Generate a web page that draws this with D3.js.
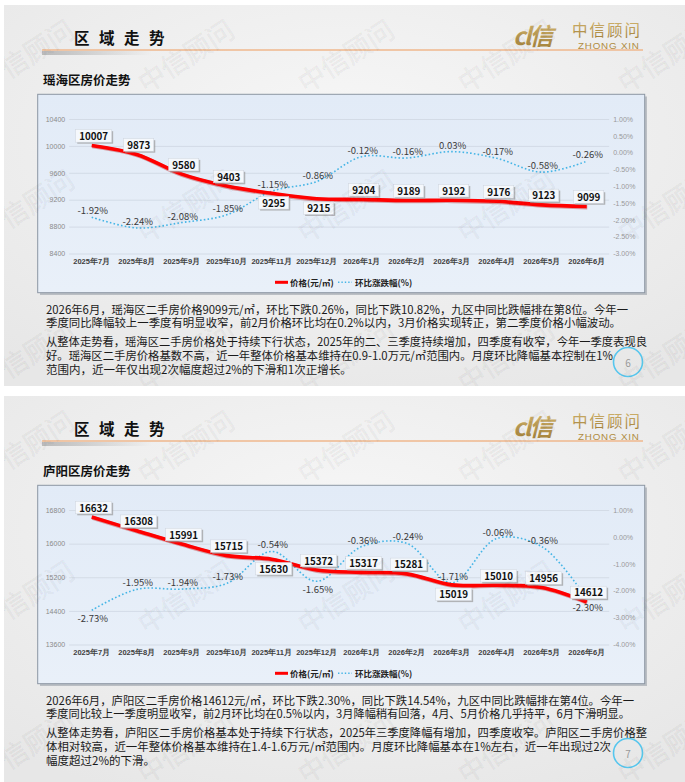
<!DOCTYPE html>
<html>
<head>
<meta charset="utf-8">
<script src="https://cdn.jsdelivr.net/npm/d3@7"></script>
<style>
  body { margin: 0; background: #fff; }
  svg { display: block; font-family: "Noto Sans CJK SC", "Noto Sans", sans-serif; }
</style>
</head>
<body>
<svg id="page" width="685" height="782"></svg>
<script>
// months on the x axis (both slides)
var months = ["2025年7月", "2025年8月", "2025年9月", "2025年10月", "2025年11月", "2025年12月",
              "2026年1月", "2026年2月", "2026年3月", "2026年4月", "2026年5月", "2026年6月"];

// 瑶海区
var yaohaiPrice = [10007, 9873, 9580, 9403, 9295, 9215, 9204, 9189, 9192, 9176, 9123, 9099];
var yaohaiPct = [-1.92, -2.24, -2.08, -1.85, -1.15, -0.86, -0.12, -0.16, 0.03, -0.17, -0.58, -0.26];
var yaohaiPriceTicks = [8400, 8800, 9200, 9600, 10000, 10400];
var yaohaiPctTicks = [-3, -2.5, -2, -1.5, -1, -0.5, 0, 0.5, 1];
var yaohaiPriceSide = ["up", "up", "up", "up", "down", "down", "up", "up", "up", "up", "up", "up"];
var yaohaiPctSide = ["up", "up", "up", "up", "up", "up", "up", "up", "up", "up", "up", "up"];
var yaohaiText = [
  ["2026年6月，瑶海区二手房价格9099元/㎡，环比下跌0.26%，同比下跌10.82%，九区中同比跌幅排在第8位。今年一",
   "季度同比降幅较上一季度有明显收窄，前2月价格环比均在0.2%以内，3月价格实现转正，第二季度价格小幅波动。"],
  ["从整体走势看，瑶海区二手房价格处于持续下行状态，2025年的二、三季度持续增加，四季度有收窄，今年一季度表现良",
   "好。瑶海区二手房价格基数不高，近一年整体价格基本维持在0.9-1.0万元/㎡范围内。月度环比降幅基本控制在1%",
   "范围内，近一年仅出现2次幅度超过2%的下滑和1次正增长。"]
];

// 庐阳区
var luyangPrice = [16632, 16308, 15991, 15715, 15630, 15372, 15317, 15281, 15019, 15010, 14956, 14612];
var luyangPct = [-2.73, -1.95, -1.94, -1.73, -0.54, -1.65, -0.36, -0.24, -1.71, -0.06, -0.36, -2.30];
var luyangPriceTicks = [13600, 14400, 15200, 16000, 16800];
var luyangPctTicks = [-4, -3, -2, -1, 0, 1];
var luyangPriceSide = ["up", "up", "up", "up", "down", "up", "up", "up", "down", "up", "up", "up"];
var luyangPctSide = ["down", "up", "up", "up", "up", "down", "up", "up", "up", "up", "up", "down"];
var luyangText = [
  ["2026年6月，庐阳区二手房价格14612元/㎡，环比下跌2.30%，同比下跌14.54%，九区中同比跌幅排在第4位。今年一",
   "季度同比较上一季度明显收窄，前2月环比均在0.5%以内，3月降幅稍有回落，4月、5月价格几乎持平，6月下滑明显。"],
  ["从整体走势看，庐阳区二手房价格基本处于持续下行状态，2025年三季度降幅有增加，四季度收窄。庐阳区二手房价格整",
   "体相对较高，近一年整体价格基本维持在1.4-1.6万元/㎡范围内。月度环比降幅基本在1%左右，近一年出现过2次",
   "幅度超过2%的下滑。"]
];

var svg = d3.select("#page");
var defs = svg.append("defs");

var bg = defs.append("radialGradient").attr("id", "slideBg").attr("cx", "50%").attr("cy", "35%").attr("r", "75%");
bg.append("stop").attr("offset", "0%").attr("stop-color", "#f7f7f7");
bg.append("stop").attr("offset", "100%").attr("stop-color", "#e7e7e7");

var boxBg = defs.append("linearGradient").attr("id", "boxBg").attr("x1", 0).attr("y1", 0).attr("x2", 0).attr("y2", 1);
boxBg.append("stop").attr("offset", "0%").attr("stop-color", "#e2ebf7");
boxBg.append("stop").attr("offset", "100%").attr("stop-color", "#e9f0f9");

var gold = defs.append("linearGradient").attr("id", "gold").attr("x1", 0).attr("y1", 0).attr("x2", 0).attr("y2", 1);
gold.append("stop").attr("offset", "0%").attr("stop-color", "#d9bd78");
gold.append("stop").attr("offset", "100%").attr("stop-color", "#9e7b34");

var hShadow = defs.append("linearGradient").attr("id", "hShadow");
hShadow.append("stop").attr("offset", "0%").attr("stop-color", "#9a9a9a").attr("stop-opacity", 0.6);
hShadow.append("stop").attr("offset", "100%").attr("stop-color", "#9a9a9a").attr("stop-opacity", 0);

function drawSlide(top, height, cfg) {
  var g = svg.append("g").attr("transform", "translate(0," + top + ")");
  var clipId = "clip" + cfg.page;
  defs.append("clipPath").attr("id", clipId).append("rect")
    .attr("x", 4).attr("y", 0).attr("width", 681).attr("height", height);

  g.append("rect").attr("x", 4).attr("y", 0).attr("width", 681).attr("height", height)
    .attr("fill", "url(#slideBg)");

  // header
  g.append("text").attr("x", 74).attr("y", 39)
    .attr("font-size", 15.5).attr("font-weight", "bold").attr("letter-spacing", 9.5)
    .attr("fill", "#111").text("区域走势");
  g.append("rect").attr("x", 42).attr("y", 46).attr("width", 110).attr("height", 4)
    .attr("fill", "url(#hShadow)");
  g.append("line").attr("x1", 42).attr("x2", 643).attr("y1", 45).attr("y2", 45)
    .attr("stroke", "#efb78c").attr("stroke-width", 1.5);

  // logo
  g.append("text").attr("x", 513).attr("y", 40).attr("font-size", 24).attr("font-style", "italic")
    .attr("font-weight", "bold").attr("fill", "url(#gold)").attr("letter-spacing", -2).text("cl信");
  g.append("text").attr("x", 572).attr("y", 30.5).attr("font-size", 15.5).attr("letter-spacing", 2)
    .attr("fill", "url(#gold)").text("中信顾问");
  g.append("text").attr("x", 578).attr("y", 43.5).attr("font-size", 9.8)
    .attr("font-family", "Liberation Sans, sans-serif")
    .attr("fill", "#b08c42").attr("letter-spacing", 0.8).text("ZHONG XIN");

  g.append("text").attr("x", 43).attr("y", 79.5).attr("font-size", 12.5).attr("font-weight", "bold")
    .attr("fill", "#111").text(cfg.title);

  // chart box
  g.append("rect").attr("x", 40).attr("y", 91.5).attr("width", 607).attr("height", 198.5)
    .attr("fill", "#9aa0a8").attr("opacity", 0.6);
  g.append("rect").attr("x", 37.7).attr("y", 89.3).attr("width", 607).attr("height", 198.4)
    .attr("fill", "url(#boxBg)").attr("stroke", "#8c96a3").attr("stroke-width", 1);

  var plotTop = 114, plotBottom = 248.5, plotLeft = 69.2, plotRight = 609.2;
  var x = d3.scaleBand().domain(months).range([plotLeft, plotRight]);
  var xc = function (i) { return x(months[i]) + x.bandwidth() / 2; };
  var pt = cfg.priceTicks, ct = cfg.pctTicks;
  var yL = d3.scaleLinear().domain([pt[0], pt[pt.length - 1]]).range([plotBottom, plotTop]);
  var yR = d3.scaleLinear().domain([ct[0], ct[ct.length - 1]]).range([plotBottom, plotTop]);

  var left = g.append("g").attr("transform", "translate(" + plotLeft + ",0)")
    .call(d3.axisLeft(yL).tickValues(pt).tickSize(-(plotRight - plotLeft)).tickPadding(4).tickFormat(d3.format("d")));
  left.select(".domain").remove();
  left.selectAll("line").attr("stroke", "#d3dbe6");
  left.selectAll("text").attr("fill", "#8a8a8a").attr("font-size", 7).attr("font-family", "Liberation Sans, sans-serif");

  var right = g.append("g").attr("transform", "translate(" + plotRight + ",0)")
    .call(d3.axisRight(yR).tickValues(ct).tickSize(0).tickPadding(4).tickFormat(function (d) { return d.toFixed(2) + "%"; }));
  right.select(".domain").remove();
  right.selectAll("text").attr("fill", "#999").attr("font-size", 7).attr("font-family", "Liberation Sans, sans-serif");

  var bottom = g.append("g").attr("transform", "translate(0," + plotBottom + ")")
    .call(d3.axisBottom(x).tickSize(0).tickPadding(5.5));
  bottom.select(".domain").remove();
  bottom.selectAll("text").attr("fill", "#404040").attr("font-size", 7.5).attr("font-weight", "bold");

  // lines
  var pctLine = d3.line().x(function (d, i) { return xc(i); }).y(function (d) { return yR(d); })
    .curve(d3.curveCatmullRom);
  var priceLine = d3.line().x(function (d, i) { return xc(i); }).y(function (d) { return yL(d); })
    .curve(d3.curveCatmullRom);

  g.append("path").datum(cfg.pct).attr("d", pctLine).attr("fill", "none")
    .attr("stroke", "#45b5e6").attr("stroke-width", 1.6).attr("stroke-dasharray", "1.6,2.2");
  g.append("path").datum(cfg.price).attr("d", priceLine).attr("fill", "none")
    .attr("stroke", "#b80000").attr("stroke-width", 4.2).attr("opacity", 0.35)
    .attr("transform", "translate(0.6,0.8)");
  g.append("path").datum(cfg.price).attr("d", priceLine).attr("fill", "none")
    .attr("stroke", "#ff0000").attr("stroke-width", 3.6);

  // percent labels
  g.selectAll(".pctLab").data(cfg.pct).enter().append("text")
    .attr("x", function (d, i) { return xc(i) + 1; })
    .attr("y", function (d, i) { return yR(d) + (cfg.pctSide[i] === "up" ? -7 : 8); })
    .attr("dominant-baseline", "central").attr("text-anchor", "middle")
    .attr("font-size", 9.5).attr("fill", "#3a3a3a")
    .text(function (d) { return d.toFixed(2) + "%"; });

  // price labels with boxes
  cfg.price.forEach(function (d, i) {
    var lg = g.append("g").attr("transform", "translate(" + (xc(i) + 2) + "," +
      (yL(d) + (cfg.priceSide[i] === "up" ? -9.5 : 9.5)) + ")");
    var t = lg.append("text").attr("text-anchor", "middle").attr("dominant-baseline", "central")
      .attr("font-size", 9.8).attr("font-weight", "bold").attr("fill", "#111").text(d);
    var w = t.node().getComputedTextLength() + 7, h = 12.5;
    lg.insert("rect", "text").attr("x", -w / 2 + 1.5).attr("y", -h / 2 + 1.5).attr("width", w).attr("height", h)
      .attr("fill", "#9a9a9a").attr("opacity", 0.7);
    lg.insert("rect", "text").attr("x", -w / 2).attr("y", -h / 2).attr("width", w).attr("height", h)
      .attr("fill", "#f5f8fc").attr("stroke", "#cfd5de").attr("stroke-width", 0.5);
  });

  // legend
  var leg = g.append("g").attr("transform", "translate(0,277.3)");
  leg.append("line").attr("x1", 275).attr("x2", 288).attr("stroke", "#ff0000").attr("stroke-width", 3);
  leg.append("text").attr("x", 290).attr("dominant-baseline", "central").attr("font-size", 8.5)
    .attr("font-weight", "bold").attr("fill", "#222").text("价格(元/㎡)");
  leg.append("line").attr("x1", 338).attr("x2", 352).attr("stroke", "#45b5e6").attr("stroke-width", 1.4)
    .attr("stroke-dasharray", "1.4,2");
  leg.append("text").attr("x", 355).attr("dominant-baseline", "central").attr("font-size", 8.5)
    .attr("font-weight", "bold").attr("fill", "#222").text("环比涨跌幅(%)");

  // paragraphs
  var baselines = [[308.5, 322], [340.5, 354.5, 368.5]];
  cfg.text.forEach(function (para, p) {
    para.forEach(function (line, l) {
      var t = g.append("text").attr("x", 46).attr("y", baselines[p][l])
        .attr("font-size", 11.5).attr("fill", "#1a1a1a").text(line);
      var target = cfg.lineEnds[p][l];
      if (target) t.attr("textLength", target - 46).attr("lengthAdjust", "spacingAndGlyphs");
    });
  });

  // page number
  g.append("circle").attr("cx", 628).attr("cy", 357).attr("r", 14.5).attr("fill", "none")
    .attr("stroke", "#56c6ee").attr("stroke-width", 1.6);
  g.append("text").attr("x", 628).attr("y", 357).attr("text-anchor", "middle").attr("dominant-baseline", "central")
    .attr("font-size", 10).attr("fill", "#999").text(cfg.page);

  // watermark
  var wm = g.append("g").attr("clip-path", "url(#" + clipId + ")");
  for (var i = 0; i < 5; i++) {
    for (var j = 0; j < 3; j++) {
      wm.append("text").attr("transform", "translate(" + (25 + 160 * i) + "," + (50 + 150 * j) + ") rotate(-33)")
        .attr("text-anchor", "middle").attr("dominant-baseline", "central")
        .attr("font-size", 27).attr("fill", "#000").attr("fill-opacity", 0.03)
        .attr("stroke", "#000").attr("stroke-opacity", 0.08).attr("stroke-width", 0.6).text("中信顾问");
    }
  }
}

drawSlide(5, 381, {
  title: "瑶海区房价走势", page: "6",
  price: yaohaiPrice, pct: yaohaiPct, priceTicks: yaohaiPriceTicks, pctTicks: yaohaiPctTicks,
  priceSide: yaohaiPriceSide, pctSide: yaohaiPctSide, text: yaohaiText,
  lineEnds: [[628, 621], [647, 613, null]]
});
drawSlide(396, 386, {
  title: "庐阳区房价走势", page: "7",
  price: luyangPrice, pct: luyangPct, priceTicks: luyangPriceTicks, pctTicks: luyangPctTicks,
  priceSide: luyangPriceSide, pctSide: luyangPctSide, text: luyangText,
  lineEnds: [[634, 630], [647, 611, null]]
});
</script>
</body>
</html>
